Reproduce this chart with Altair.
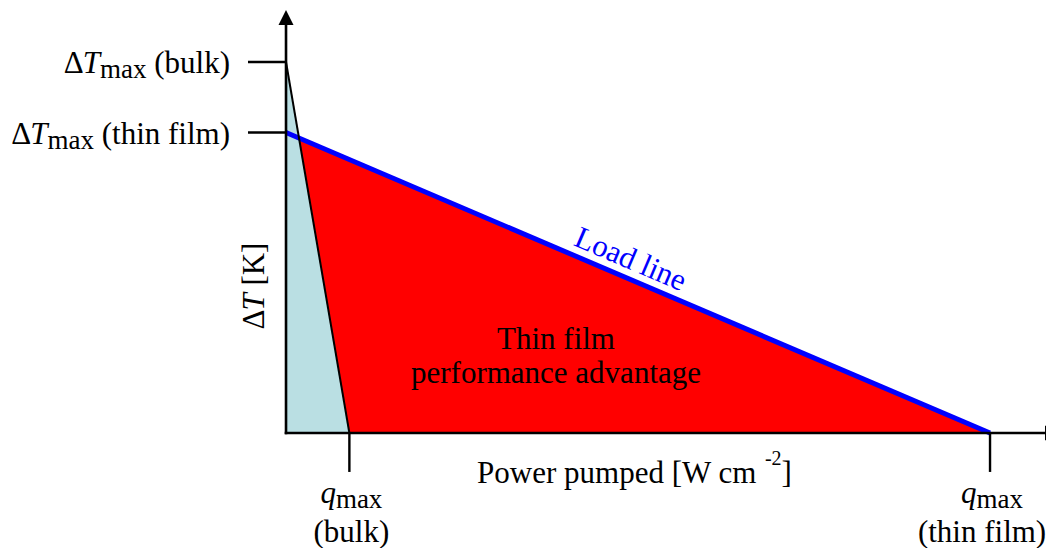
import math
import altair as alt
import pandas as pd

# ---------------- data (normalised, schematic) ----------------
q_names = ["bulk", "thin film"]
q_max = [0.09, 1.0]            # max heat flux pumped (thin film = 1)
dT_names = ["bulk", "thin film"]
dT_max = [1.0, 0.81]           # max temperature difference (bulk = 1)
region_lines = ["Thin film", "performance advantage"]
load_label = "Load line"
x_title = ["Power pumped [W cm", "-2", "]"]
y_title = ["Δ", "T", "[K]"]

# ---------------- layout / style ----------------
FONT = "Liberation Serif"
W_PX, H_PX = 1038, 540
X_DOMAIN = [-0.3949, 1.0795]
Y_DOMAIN = [-0.3100, 1.1456]
AX_END_X, AX_END_Y = 1.078, 1.100      # axis line ends (arrow bases)
ARROW_X, ARROW_Y = 1.0994, 1.140       # arrow tips
YTICK_X0 = -0.054
XTICK_Y0 = -0.105
LIGHT_BLUE = "#BADFE3"
RED = "#FF0000"
BLUE = "#0000FF"
MAIN, SUB, SUP = 31, 27, 20

PXX = W_PX / (X_DOMAIN[1] - X_DOMAIN[0])
PXY = H_PX / (Y_DOMAIN[1] - Y_DOMAIN[0])

X = alt.X("x:Q", scale=alt.Scale(domain=X_DOMAIN, nice=False, zero=False), axis=None)
Y = alt.Y("y:Q", scale=alt.Scale(domain=Y_DOMAIN, nice=False, zero=False), axis=None)

# Times / Liberation Serif advance widths (em)
WR = {" ": .25, "(": .333, ")": .333, "[": .333, "]": .333, "a": .444, "b": .5, "c": .444,
      "d": .5, "e": .444, "f": .333, "g": .5, "h": .5, "i": .278, "k": .5, "l": .278,
      "m": .778, "n": .5, "o": .5, "p": .5, "r": .333, "t": .278, "u": .5, "v": .5,
      "w": .722, "x": .5, "P": .556, "W": .944, "K": .722, "T": .611, "L": .611,
      "-": .333, "2": .5, "Δ": .613}
WI = {"T": .556, "q": .5}


def tw(s, size, italic=False):
    tab = WI if italic else WR
    return sum(tab.get(ch, WR.get(ch, .5)) for ch in s) * size


def text_layer(x, y, text, dx=0, dy=0, size=MAIN, italic=False, align="left",
               angle=0, color="black", line_height=None):
    df = pd.DataFrame({"x": [x], "y": [y], "t": [text]})
    kw = dict(align=align, baseline="alphabetic", dx=dx, dy=dy, fontSize=size, font=FONT,
              fontStyle="italic" if italic else "normal", color=color)
    if angle:
        kw["angle"] = angle
    if line_height:
        kw["lineHeight"] = line_height
        kw["lineBreak"] = "\n"
    return alt.Chart(df).mark_text(**kw).encode(x=X, y=Y, text="t:N")


def composite(x, y, pieces, anchor_dx, base_dy, align, angle=0, color="black"):
    # pieces: (text, italic, size, rise, gap_px)
    total = sum(g + tw(t, s, it) for t, it, s, r, g in pieces)
    start = anchor_dx - {"left": 0, "center": total / 2, "right": total}[align]
    out, cur = [], start
    for t, it, s, r, g in pieces:
        cur += g
        out.append(text_layer(x, y, t, dx=cur, dy=base_dy + r, size=s, italic=it,
                              angle=angle, color=color))
        cur += tw(t, s, it)
    return out


layers = []

# filled regions
red_df = pd.DataFrame({"x": [0, q_max[1]], "y": [dT_max[1], 0]})
layers.append(alt.Chart(red_df).mark_area(color=RED, opacity=1).encode(x=X, y=Y, y2=alt.datum(0)))
blue_df = pd.DataFrame({"x": [0, q_max[0]], "y": [dT_max[0], 0]})
layers.append(alt.Chart(blue_df).mark_area(color=LIGHT_BLUE, opacity=1).encode(x=X, y=Y, y2=alt.datum(0)))

# load line (thin film) and bulk line
layers.append(alt.Chart(red_df).mark_line(color=BLUE, strokeWidth=5).encode(x=X, y=Y))
layers.append(alt.Chart(blue_df).mark_line(color="black", strokeWidth=2).encode(x=X, y=Y))

# axes
ax_df = pd.DataFrame({"x": [0, 0], "y": [0, 0], "x2": [AX_END_X, 0], "y2": [0, AX_END_Y]})
layers.append(alt.Chart(ax_df).mark_rule(color="black", strokeWidth=2.6, strokeCap="square")
              .encode(x=X, y=Y, x2="x2:Q", y2="y2:Q"))
yt_df = pd.DataFrame({"x": [YTICK_X0] * 2, "x2": [0, 0], "y": dT_max, "y2": dT_max})
layers.append(alt.Chart(yt_df).mark_rule(color="black", strokeWidth=2.4)
              .encode(x=X, y=Y, x2="x2:Q", y2="y2:Q"))
xt_df = pd.DataFrame({"x": q_max, "x2": q_max, "y": [0, 0], "y2": [XTICK_Y0] * 2})
layers.append(alt.Chart(xt_df).mark_rule(color="black", strokeWidth=2.4)
              .encode(x=X, y=Y, x2="x2:Q", y2="y2:Q"))

# arrow heads
up = pd.DataFrame({"x": [0], "y": [ARROW_Y]})
layers.append(alt.Chart(up).mark_point(shape="M0,0L-1,2L1,2Z", size=225, filled=True,
                                       color="black", opacity=1).encode(x=X, y=Y))
right = pd.DataFrame({"x": [ARROW_X], "y": [0]})
layers.append(alt.Chart(right).mark_point(shape="M0,0L-2,-1L-2,1Z", size=225, filled=True,
                                          color="black", opacity=1).encode(x=X, y=Y))

# left labels: ΔT_max (...)
for name, v in zip(dT_names, dT_max):
    pieces = [("Δ", False, MAIN, 0, 0), ("T", True, MAIN, 0, 0), ("max", False, SUB, 5, 0),
              (f"({name})", False, MAIN, 0, tw(" ", MAIN))]
    layers += composite(0, v, pieces, anchor_dx=-56, base_dy=11, align="right")

# bottom labels: q_max (...)
for name, v, shift in zip(q_names, q_max, [2, -8]):
    pieces = [("q", True, MAIN, 0, 0), ("max", False, SUB, 5, 0)]
    layers += composite(v, 0, pieces, anchor_dx=2, base_dy=70, align="center")
    layers.append(text_layer(v, 0, f"({name})", dx=shift, dy=109, align="center"))

# x title with superscript
xt_pieces = [(x_title[0], False, MAIN, 0, 0), (x_title[1], False, SUP, -18, 8),
             (x_title[2], False, MAIN, 0, 0)]
layers += composite(0.495, 0, xt_pieces, anchor_dx=0, base_dy=50, align="center")

# y title rotated
yt_pieces = [(y_title[0], False, MAIN, 0, 0), (y_title[1], True, MAIN, 0, 0),
             (y_title[2], False, MAIN, 0, tw(" ", MAIN))]
layers += composite(0, 0.396, yt_pieces, anchor_dx=0, base_dy=-22, align="center", angle=270)

# region label
layers.append(text_layer(0.3835, 0.226, "\n".join(region_lines), align="center", line_height=34))

# load line label
lx = 0.479
ly = dT_max[1] * (1 - lx / q_max[1])
ang = math.degrees(math.atan((dT_max[1] * PXY) / (q_max[1] * PXX)))
layers.append(text_layer(lx, ly, load_label, dy=-9, align="center", angle=ang, color=BLUE))

chart = alt.layer(*layers).properties(
    width=W_PX, height=H_PX, padding=0,
    autosize=alt.AutoSizeParams(type="none"),
).configure_view(stroke=None)

chart.save("out.html", embed_options={"renderer": "svg", "actions": False})
